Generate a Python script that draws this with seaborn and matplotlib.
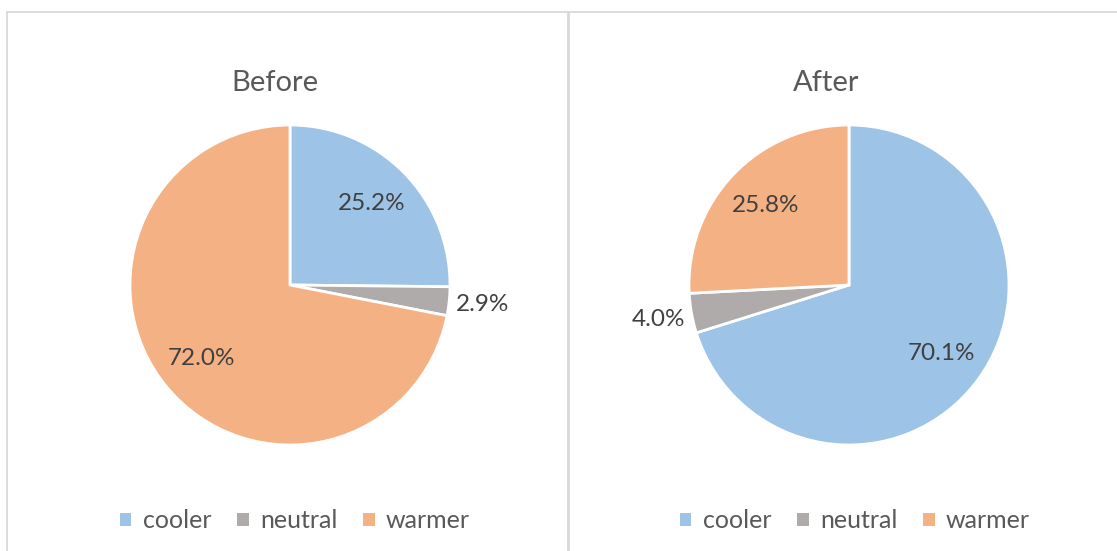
import matplotlib
matplotlib.use("Agg")
import matplotlib.pyplot as plt
from matplotlib.patches import Rectangle, Patch
import numpy as np
import seaborn as sns

categories = ["cooler", "neutral", "warmer"]
before_values = [25.2, 2.9, 72.0]
after_values = [70.1, 4.0, 25.8]
titles = ["Before", "After"]

sns.set_theme(style="white")
plt.rcParams["font.family"] = ["Lato", "DejaVu Sans"]

colors = ["#9DC3E6", "#AFABAB", "#F4B183"]
W, H = 1117, 551
fig = plt.figure(figsize=(W / 100, H / 100), dpi=100)
fig.patch.set_facecolor("white")

# panel borders
for x0, x1 in [(7, 568), (569, 1130)]:
    fig.add_artist(Rectangle((x0 / W, -0.05), (x1 - x0) / W, (H - 12) / H + 0.05,
                             transform=fig.transFigure, fill=False,
                             edgecolor="#D9D9D9", linewidth=1.3))

R = 160
centers = [290, 849]
title_x = [275, 826]
legend_x = [295, 855]
cy = 285

for cx, tx, lx, title, vals in zip(centers, title_x, legend_x, titles,
                                   [before_values, after_values]):
    ax = fig.add_axes([(cx - R) / W, (H - cy - R) / H, 2 * R / W, 2 * R / H])
    wedges, _, autotexts = ax.pie(
        vals, colors=colors, startangle=90, counterclock=False,
        autopct="%.1f%%", pctdistance=0.72,
        wedgeprops=dict(edgecolor="white", linewidth=2),
        textprops=dict(color="#404040", fontsize=17.5),
    )
    total = sum(vals)
    for w, t, v in zip(wedges, autotexts, vals):
        t.set_text(f"{v:.1f}%")
        if v / total < 0.08:
            mid = np.deg2rad((w.theta1 + w.theta2) / 2)
            t.set_position((1.21 * np.cos(mid), 1.21 * np.sin(mid)))
    ax.set_xlim(-1, 1)
    ax.set_ylim(-1, 1)
    ax.set_aspect("equal")
    ax.axis("off")
    fig.text(tx / W, 1 - 83 / H, title, ha="center", va="center",
             fontsize=21, color="#595959")
    handles = [Patch(facecolor=c, edgecolor="none") for c in colors]
    fig.legend(handles, categories, loc="center", ncol=3, frameon=False,
               bbox_to_anchor=(lx / W, 1 - 521 / H),
               fontsize=18, labelcolor="#595959",
               handlelength=0.45, handleheight=0.45, handletextpad=0.45,
               columnspacing=1.05)

fig.savefig("out.png", dpi=100, facecolor="white")
